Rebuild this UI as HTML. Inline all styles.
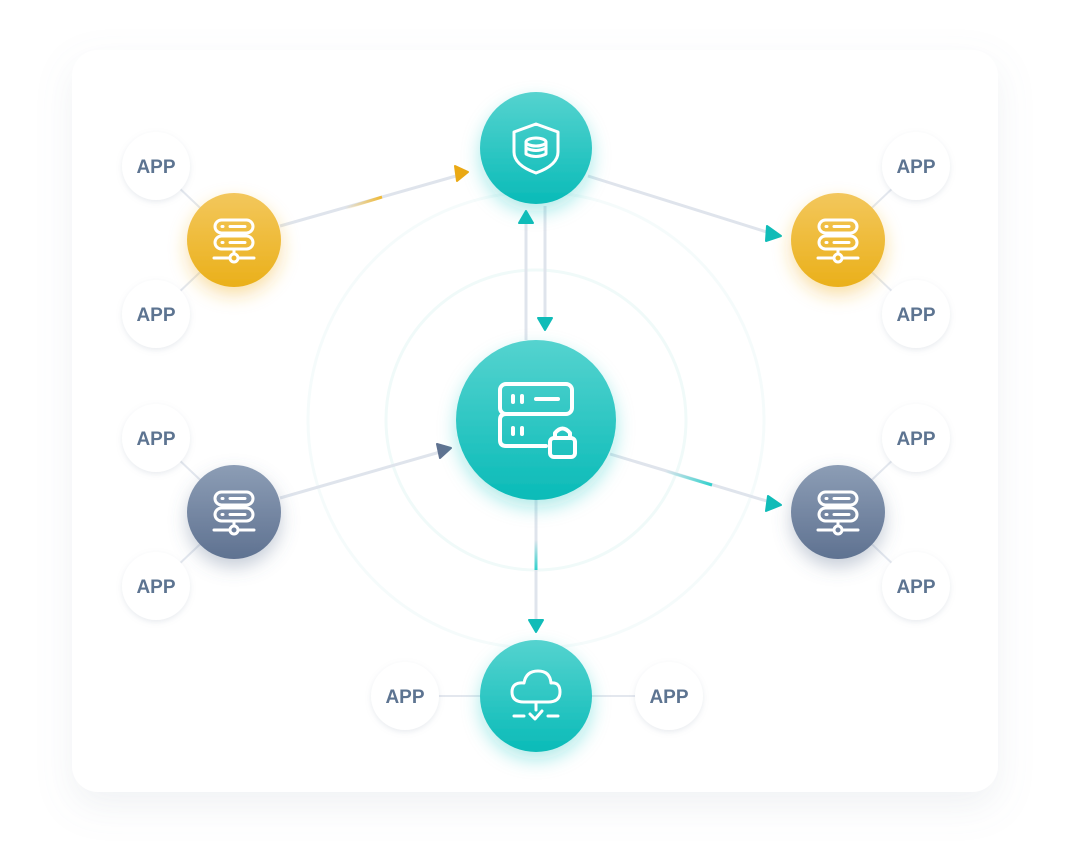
<!DOCTYPE html>
<html><head><meta charset="utf-8"><style>
html,body{margin:0;padding:0;background:#fff;width:1072px;height:854px;overflow:hidden}
</style></head><body>
<svg width="1072" height="854" viewBox="0 0 1072 854" xmlns="http://www.w3.org/2000/svg" font-family="Liberation Sans, sans-serif">
<defs>
<filter id="card" x="-10%" y="-10%" width="120%" height="130%"><feDropShadow dx="0" dy="14" stdDeviation="18" flood-color="#8090a8" flood-opacity="0.12"/></filter>
<filter id="appsh" x="-30%" y="-30%" width="160%" height="160%"><feDropShadow dx="0" dy="2" stdDeviation="3" flood-color="#8090a8" flood-opacity="0.18"/></filter>
<filter id="glowT" x="-50%" y="-50%" width="200%" height="200%"><feDropShadow dx="0" dy="8" stdDeviation="9" flood-color="#14c4c0" flood-opacity="0.35"/></filter>
<filter id="glowY" x="-50%" y="-50%" width="200%" height="200%"><feDropShadow dx="0" dy="8" stdDeviation="9" flood-color="#f0b020" flood-opacity="0.4"/></filter>
<filter id="glowG" x="-50%" y="-50%" width="200%" height="200%"><feDropShadow dx="0" dy="8" stdDeviation="9" flood-color="#5a6f8e" flood-opacity="0.35"/></filter>
<linearGradient id="gT" x1="0" y1="0" x2="0" y2="1"><stop offset="0" stop-color="#55d3cf"/><stop offset="1" stop-color="#0abbb8"/></linearGradient>
<linearGradient id="gY" x1="0" y1="0" x2="0" y2="1"><stop offset="0" stop-color="#f3c75c"/><stop offset="1" stop-color="#eab01a"/></linearGradient>
<linearGradient id="gG" x1="0" y1="0" x2="0" y2="1"><stop offset="0" stop-color="#8c9db5"/><stop offset="1" stop-color="#5f7291"/></linearGradient>
<linearGradient id="aY" gradientUnits="userSpaceOnUse" x1="345" y1="208" x2="382" y2="197"><stop offset="0" stop-color="#f0b933" stop-opacity="0"/><stop offset="1" stop-color="#f0b933"/></linearGradient>
<linearGradient id="aT" gradientUnits="userSpaceOnUse" x1="665" y1="471" x2="712" y2="485"><stop offset="0" stop-color="#2fd0cc" stop-opacity="0"/><stop offset="1" stop-color="#2fd0cc"/></linearGradient>
<linearGradient id="aV" x1="0" y1="0" x2="0" y2="1"><stop offset="0" stop-color="#2fd0cc" stop-opacity="0"/><stop offset="1" stop-color="#2fd0cc"/></linearGradient>
<g id="srv" fill="none" stroke="#fff" stroke-width="3" stroke-linecap="round">
<rect x="-19" y="-20" width="38" height="13" rx="6.5"/><rect x="-19" y="-4" width="38" height="13" rx="6.5"/>
<line x1="-12" y1="-13.5" x2="-11" y2="-13.5"/><line x1="-4" y1="-13.5" x2="11" y2="-13.5"/>
<line x1="-12" y1="2.5" x2="-11" y2="2.5"/><line x1="-4" y1="2.5" x2="11" y2="2.5"/>
<line x1="0" y1="9" x2="0" y2="14"/><circle cx="0" cy="18" r="4"/>
<line x1="-20" y1="18" x2="-4" y2="18"/><line x1="4" y1="18" x2="20" y2="18"/>
</g>
</defs>
<rect x="72" y="50" width="926" height="742" rx="26" fill="#fff" filter="url(#card)"/>
<circle cx="536" cy="420" r="150" fill="none" stroke="#f0faf9" stroke-width="3"/>
<circle cx="536" cy="420" r="228" fill="none" stroke="#f5fbfb" stroke-width="3"/>
<g stroke="#e3e7ee" stroke-width="2">
<line x1="156" y1="166" x2="234" y2="240"/><line x1="156" y1="314" x2="234" y2="240"/>
<line x1="916" y1="166" x2="838" y2="240"/><line x1="916" y1="314" x2="838" y2="240"/>
<line x1="156" y1="438" x2="234" y2="512"/><line x1="156" y1="586" x2="234" y2="512"/>
<line x1="916" y1="438" x2="838" y2="512"/><line x1="916" y1="586" x2="838" y2="512"/>
<line x1="405" y1="696" x2="669" y2="696"/>
</g>
<g stroke="#dfe4ec" stroke-width="3" fill="none">
<line x1="280" y1="226" x2="456" y2="176"/>
<line x1="588" y1="176" x2="770" y2="233"/>
<line x1="526" y1="340" x2="526" y2="224"/>
<line x1="545" y1="206" x2="545" y2="318"/>
<line x1="280" y1="498" x2="440" y2="452"/>
<line x1="610" y1="454" x2="770" y2="502"/>
<line x1="536" y1="500" x2="536" y2="620"/>
</g>
<line x1="340" y1="210" x2="382" y2="197" stroke="url(#aY)" stroke-width="3"/>
<line x1="665" y1="471" x2="712" y2="485" stroke="url(#aT)" stroke-width="3"/>
<rect x="534.5" y="540" width="3" height="30" fill="url(#aV)"/>
<polygon points="468,172 455,166 457,181" fill="#eaa914" stroke="#eaa914" stroke-width="2" stroke-linejoin="round"/>
<polygon points="781,236 767,226 766,241" fill="#10bcb8" stroke="#10bcb8" stroke-width="2" stroke-linejoin="round"/>
<polygon points="526,211 519,223 533,223" fill="#10bcb8" stroke="#10bcb8" stroke-width="2" stroke-linejoin="round"/>
<polygon points="545,330 538,318 552,318" fill="#10bcb8" stroke="#10bcb8" stroke-width="2" stroke-linejoin="round"/>
<polygon points="451,448 437,444 440,458" fill="#5f7291" stroke="#5f7291" stroke-width="2" stroke-linejoin="round"/>
<polygon points="781,505 768,496 766,511" fill="#10bcb8" stroke="#10bcb8" stroke-width="2" stroke-linejoin="round"/>
<polygon points="536,632 529,620 543,620" fill="#10bcb8" stroke="#10bcb8" stroke-width="2" stroke-linejoin="round"/>
<g filter="url(#appsh)" fill="#fff">
<circle cx="156" cy="166" r="34"/><circle cx="156" cy="314" r="34"/>
<circle cx="916" cy="166" r="34"/><circle cx="916" cy="314" r="34"/>
<circle cx="156" cy="438" r="34"/><circle cx="156" cy="586" r="34"/>
<circle cx="916" cy="438" r="34"/><circle cx="916" cy="586" r="34"/>
<circle cx="405" cy="696" r="34"/><circle cx="669" cy="696" r="34"/>
</g>
<g fill="#5d7491" font-size="19" font-weight="bold" text-anchor="middle">
<text x="156" y="173">APP</text><text x="156" y="321">APP</text>
<text x="916" y="173">APP</text><text x="916" y="321">APP</text>
<text x="156" y="445">APP</text><text x="156" y="593">APP</text>
<text x="916" y="445">APP</text><text x="916" y="593">APP</text>
<text x="405" y="703">APP</text><text x="669" y="703">APP</text>
</g>
<circle cx="234" cy="240" r="47" fill="url(#gY)" filter="url(#glowY)"/>
<circle cx="838" cy="240" r="47" fill="url(#gY)" filter="url(#glowY)"/>
<circle cx="234" cy="512" r="47" fill="url(#gG)" filter="url(#glowG)"/>
<circle cx="838" cy="512" r="47" fill="url(#gG)" filter="url(#glowG)"/>
<use href="#srv" x="234" y="240"/><use href="#srv" x="838" y="240"/>
<use href="#srv" x="234" y="512"/><use href="#srv" x="838" y="512"/>
<circle cx="536" cy="148" r="56" fill="url(#gT)" filter="url(#glowT)"/>
<circle cx="536" cy="420" r="80" fill="url(#gT)" filter="url(#glowT)"/>
<circle cx="536" cy="696" r="56" fill="url(#gT)" filter="url(#glowT)"/>
<g fill="none" stroke="#fff" stroke-width="3" stroke-linecap="round" stroke-linejoin="round">
<path d="M536 124 L514 132 L514 152 Q514 165 536 173 Q558 165 558 152 L558 132 Z"/>
<ellipse cx="536" cy="142" rx="10" ry="4"/>
<path d="M526 142 V154 Q536 159 546 154 V142"/><path d="M526 148 Q536 153 546 148"/>
</g>
<g fill="none" stroke="#fff" stroke-width="4" stroke-linecap="round" stroke-linejoin="round">
<rect x="500" y="384" width="72" height="30" rx="6"/>
<path d="M546 446 H506 Q500 446 500 440 V420 Q500 414 506 414 H560"/>
<line x1="513" y1="396" x2="513" y2="402"/><line x1="522" y1="396" x2="522" y2="402"/><line x1="536" y1="399" x2="558" y2="399"/>
<line x1="513" y1="428" x2="513" y2="434"/><line x1="522" y1="428" x2="522" y2="434"/>
<rect x="550" y="438" width="25" height="19" rx="4"/>
<path d="M555 438 V433 Q562.5 424 570 433 V438"/>
</g>
<g fill="none" stroke="#fff" stroke-width="3" stroke-linecap="round" stroke-linejoin="round">
<path d="M524 702 Q512 702 512 692 Q512 682 524 683 Q526 671 538 671 Q550 671 551 683 Q560 682 560 692 Q560 702 548 702 Z"/>
<line x1="536" y1="702" x2="536" y2="710"/>
<line x1="514" y1="716" x2="524" y2="716"/><line x1="548" y1="716" x2="558" y2="716"/>
<path d="M530 714 L535 719 L542 711"/>
</g>
</svg>
</body></html>
